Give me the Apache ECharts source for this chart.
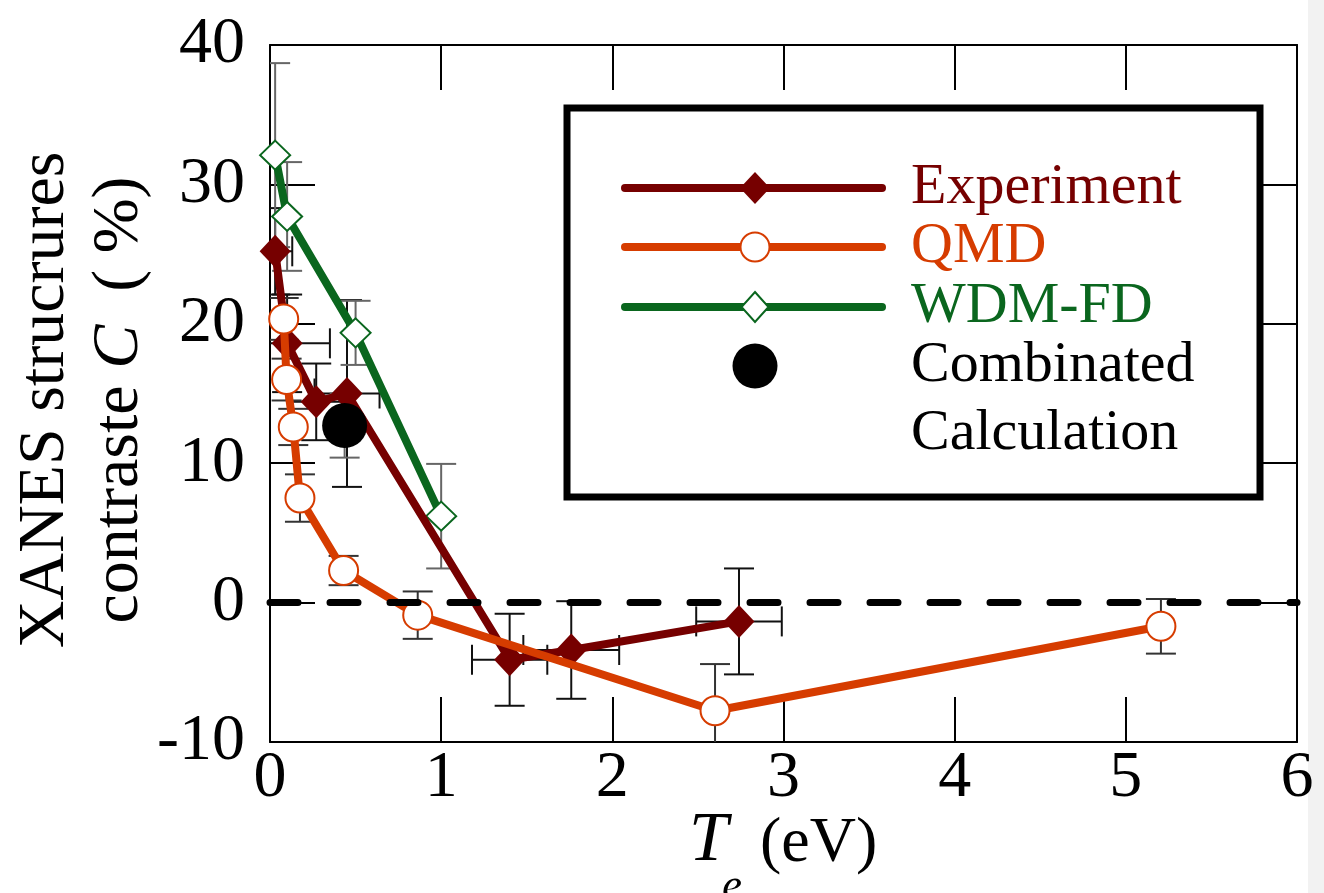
<!DOCTYPE html>
<html>
<head>
<meta charset="utf-8">
<title>XANES structures contrast vs Te</title>
<script src="https://cdn.jsdelivr.net/npm/echarts@6/dist/echarts.min.js"></script>
<style>
  html, body { margin: 0; padding: 0; background: #fff; }
  #chart { width: 1324px; height: 893px; }
</style>
</head>
<body>
<div id="chart"></div>
<script>
// ---- data -------------------------------------------------------------
// Experiment (filled diamonds) with x and y uncertainties
const expT    = [0.03, 0.10, 0.27, 0.45, 1.40, 1.76, 2.74];
const expC    = [25.2, 18.6, 14.4, 15.0, -4.1, -3.4, -1.35];
const expTErr = [0.10, 0.25, 0.15, 0.19, 0.22, 0.28, 0.25];
const expCErr = [3.1, 3.5, 2.75, 6.7, 3.3, 3.5, 3.8];

// QMD (open circles)
const qmdT    = [0.08, 0.097, 0.136, 0.175, 0.43, 0.863, 2.60, 5.205];
const qmdC    = [20.35, 16.0, 12.6, 7.5, 2.3, -0.9, -7.76, -1.70];
const qmdCErr = [1.5, 1.5, 1.3, 1.7, 1.05, 1.7, 3.35, 1.96];

// WDM-FD (open diamonds)
const wdmT    = [0.03, 0.10, 0.50, 1.00];
const wdmC    = [32.1, 27.7, 19.35, 6.2];
const wdmCErr = [6.6, 3.9, 2.3, 3.75];

// Combinated calculation (single point)
const combT    = [0.436];
const combC    = [12.7];
const combCErr = [2.3];

// axis ticks
const xTicks = { min: 0, max: 6, interval: 1 };
const yTicks = { min: -10, max: 40, interval: 10 };
const zeroLevel = 0;

// ---- styling ----------------------------------------------------------
const SERIF = "'Liberation Serif', 'Times New Roman', 'DejaVu Serif', serif";
const C_EXP = '#760000';
const C_QMD = '#d63c00';
const C_WDM = '#0a661e';
const LINE_W = 8;

const zip = (a, b) => a.map((v, i) => [v, b[i]]);
const errRows = (xs, ys, ex, ey) =>
  xs.map((v, i) => [v, ys[i], ex ? ex[i] : 0, ey ? ey[i] : 0]);

function errorBars(color, width) {
  return function (params, api) {
    const x = api.value(0), y = api.value(1);
    const ex = api.value(2), ey = api.value(3);
    const c = api.coord([x, y]);
    const cap = 15;
    const style = { stroke: color, lineWidth: width };
    const kids = [];
    const seg = (x1, y1, x2, y2) =>
      kids.push({ type: 'line', shape: { x1, y1, x2, y2 }, style });
    if (ey > 0) {
      const t = api.coord([x, y + ey])[1];
      const b = api.coord([x, y - ey])[1];
      seg(c[0], t, c[0], b);
      seg(c[0] - cap, t, c[0] + cap, t);
      seg(c[0] - cap, b, c[0] + cap, b);
    }
    if (ex > 0) {
      const l = api.coord([x - ex, y])[0];
      const r = api.coord([x + ex, y])[0];
      seg(l, c[1], r, c[1]);
      seg(l, c[1] - cap, l, c[1] + cap);
      seg(r, c[1] - cap, r, c[1] + cap);
    }
    return { type: 'group', children: kids };
  };
}

const axisCommon = {
  type: 'value',
  axisLine: { show: true, onZero: false, lineStyle: { color: '#000', width: 2 } },
  axisTick: { show: true, inside: true, length: 45, lineStyle: { color: '#000', width: 2 } },
  splitLine: { show: false }
};
const labelStyle = { color: '#000', fontFamily: SERIF, fontSize: 66 };

// ---- legend (drawn as graphic) ----------------------------------------
function diamond(cx, cy, w, h) {
  return [[cx, cy - h / 2], [cx + w / 2, cy], [cx, cy + h / 2], [cx - w / 2, cy]];
}
const LX0 = 625, LX1 = 882, LM = 755, LT = 911;
const rows = [188, 247, 307, 366, 434];
const legendEls = [
  { type: 'rect', shape: { x: 567, y: 108, width: 693, height: 389 },
    style: { fill: '#fff', stroke: '#000', lineWidth: 7 } },
  { type: 'line', shape: { x1: LX0, y1: rows[0], x2: LX1, y2: rows[0] },
    style: { stroke: C_EXP, lineWidth: LINE_W, lineCap: 'round' } },
  { type: 'polygon', shape: { points: diamond(LM, rows[0], 30, 32) }, style: { fill: C_EXP } },
  { type: 'line', shape: { x1: LX0, y1: rows[1], x2: LX1, y2: rows[1] },
    style: { stroke: C_QMD, lineWidth: LINE_W, lineCap: 'round' } },
  { type: 'circle', shape: { cx: LM, cy: rows[1], r: 14.5 },
    style: { fill: '#fff', stroke: C_QMD, lineWidth: 2 } },
  { type: 'line', shape: { x1: LX0, y1: rows[2], x2: LX1, y2: rows[2] },
    style: { stroke: C_WDM, lineWidth: LINE_W, lineCap: 'round' } },
  { type: 'polygon', shape: { points: diamond(LM, rows[2], 27, 30) },
    style: { fill: '#fff', stroke: C_WDM, lineWidth: 2 } },
  { type: 'circle', shape: { cx: LM, cy: rows[3], r: 22.5 }, style: { fill: '#000' } },
  { type: 'text', x: LT, y: rows[0], style: { text: 'Experiment', fill: C_EXP, font: '58px ' + SERIF, verticalAlign: 'middle' } },
  { type: 'text', x: LT, y: rows[1], style: { text: 'QMD', fill: C_QMD, font: '58px ' + SERIF, verticalAlign: 'middle' } },
  { type: 'text', x: LT, y: rows[2], style: { text: 'WDM-FD', fill: C_WDM, font: '58px ' + SERIF, verticalAlign: 'middle' } },
  { type: 'text', x: LT, y: rows[3], style: { text: 'Combinated', fill: '#000', font: '58px ' + SERIF, verticalAlign: 'middle' } },
  { type: 'text', x: LT, y: rows[4], style: { text: 'Calculation', fill: '#000', font: '58px ' + SERIF, verticalAlign: 'middle' } }
].map(e => Object.assign({ z: 100 }, e));

// axis titles and page margin strip
const titleEls = [
  { type: 'text', x: 83, y: 400, rotation: Math.PI / 2, z: 50,
    style: {
      text: 'XANES strucrures\ncontraste {i|C}  ( %)',
      fill: '#000', fontFamily: SERIF, fontSize: 66, lineHeight: 74,
      align: 'center', verticalAlign: 'middle',
      rich: { i: { fontStyle: 'italic', fontFamily: SERIF, fontSize: 66, lineHeight: 74 } }
    } },
  { type: 'text', x: 689, y: 842, z: 50,
    style: { text: 'T', fill: '#000', font: 'italic 70px ' + SERIF, verticalAlign: 'middle' } },
  { type: 'text', x: 760, y: 844, z: 50,
    style: { text: '(eV)', fill: '#000', font: '64px ' + SERIF, verticalAlign: 'middle' } },
  { type: 'text', x: 722, y: 887, z: 50,
    style: { text: 'e', fill: '#000', font: 'italic 45px ' + SERIF, verticalAlign: 'middle' } },
  { type: 'rect', shape: { x: 1308, y: 0, width: 16, height: 893 }, z: -10,
    style: { fill: '#f2f2f2' } }
];

// ---- chart ------------------------------------------------------------
const chart = echarts.init(document.getElementById('chart'), null, { renderer: 'canvas' });

chart.setOption({
  animation: false,
  backgroundColor: '#fff',
  grid: { left: 270, right: 27, top: 45, bottom: 151, containLabel: false },
  xAxis: [
    Object.assign({}, axisCommon, xTicks, { position: 'bottom',
      axisLabel: Object.assign({ margin: 4 }, labelStyle) }),
    Object.assign({}, axisCommon, xTicks, { position: 'top', axisLabel: { show: false } })
  ],
  yAxis: [
    Object.assign({}, axisCommon, yTicks, { position: 'left',
      axisLabel: Object.assign({ margin: 25 }, labelStyle) }),
    Object.assign({}, axisCommon, yTicks, { position: 'right', axisLabel: { show: false } })
  ],
  graphic: legendEls.concat(titleEls),
  series: [
    { type: 'custom', name: 'exp-err', clip: true, z: 2,
      renderItem: errorBars('#111', 2), data: errRows(expT, expC, expTErr, expCErr) },
    { type: 'custom', name: 'qmd-err', clip: true, z: 2,
      renderItem: errorBars('#333', 2), data: errRows(qmdT, qmdC, null, qmdCErr) },
    { type: 'custom', name: 'wdm-err', clip: true, z: 2,
      renderItem: errorBars('#666', 2), data: errRows(wdmT, wdmC, null, wdmCErr) },
    { type: 'custom', name: 'comb-err', clip: true, z: 2,
      renderItem: errorBars('#666', 2), data: errRows(combT, combC, null, combCErr) },
    { type: 'line', name: 'WDM-FD', z: 3, data: zip(wdmT, wdmC),
      symbol: 'diamond', symbolSize: [30, 29], showAllSymbol: true,
      lineStyle: { color: C_WDM, width: LINE_W },
      itemStyle: { color: '#fff', borderColor: C_WDM, borderWidth: 2 } },
    { type: 'line', name: 'Experiment', z: 4, data: zip(expT, expC),
      symbol: 'diamond', symbolSize: [31, 33], showAllSymbol: true,
      lineStyle: { color: C_EXP, width: LINE_W },
      itemStyle: { color: C_EXP, borderWidth: 0 } },
    { type: 'line', name: 'QMD', z: 5, data: zip(qmdT, qmdC),
      symbol: 'circle', symbolSize: 29, showAllSymbol: true,
      lineStyle: { color: C_QMD, width: LINE_W },
      itemStyle: { color: '#fff', borderColor: C_QMD, borderWidth: 2 },
      markLine: {
        silent: true, symbol: 'none', z: 10, label: { show: false },
        lineStyle: { color: '#000', width: 7, type: [28, 32], cap: 'round', opacity: 1 },
        data: [{ yAxis: zeroLevel }]
      } },
    { type: 'scatter', name: 'Combinated Calculation', z: 6, data: zip(combT, combC),
      symbol: 'circle', symbolSize: 45, itemStyle: { color: '#000', opacity: 1 } }
  ]
});
</script>
</body>
</html>
